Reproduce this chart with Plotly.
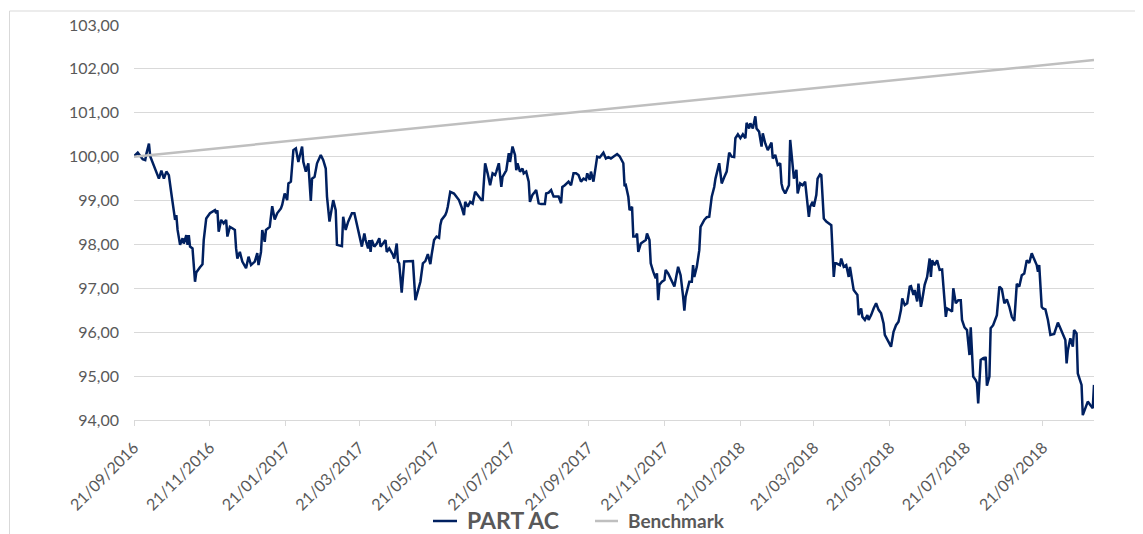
import plotly.graph_objects as go

# ---- data ----
dates = [
    "2016-09-21", "2016-09-24", "2016-09-28", "2016-09-30", "2016-10-01", "2016-10-03", "2016-10-04",
    "2016-10-07", "2016-10-09", "2016-10-11", "2016-10-13", "2016-10-15", "2016-10-17", "2016-10-19",
    "2016-10-21", "2016-10-24", "2016-10-25", "2016-10-26", "2016-10-28", "2016-10-30", "2016-10-31",
    "2016-11-02", "2016-11-03", "2016-11-04", "2016-11-05", "2016-11-07", "2016-11-09", "2016-11-10",
    "2016-11-13", "2016-11-15", "2016-11-16", "2016-11-18", "2016-11-21", "2016-11-23", "2016-11-25",
    "2016-11-26", "2016-11-27", "2016-11-28", "2016-11-30", "2016-12-02", "2016-12-04", "2016-12-05",
    "2016-12-07", "2016-12-09", "2016-12-11", "2016-12-12", "2016-12-13", "2016-12-15", "2016-12-17",
    "2016-12-20", "2016-12-22", "2016-12-24", "2016-12-27", "2016-12-29", "2016-12-30",
    "2017-01-01", "2017-01-02", "2017-01-04", "2017-01-05", "2017-01-08", "2017-01-10", "2017-01-12",
    "2017-01-14", "2017-01-17", "2017-01-18", "2017-01-20", "2017-01-22", "2017-01-23", "2017-01-25",
    "2017-01-27", "2017-01-29", "2017-01-31", "2017-02-03", "2017-02-04", "2017-02-06", "2017-02-08",
    "2017-02-10", "2017-02-11", "2017-02-13", "2017-02-15", "2017-02-18", "2017-02-20", "2017-02-22",
    "2017-02-23", "2017-02-25", "2017-02-28", "2017-03-02", "2017-03-03", "2017-03-07", "2017-03-08",
    "2017-03-10", "2017-03-12", "2017-03-15", "2017-03-17", "2017-03-19", "2017-03-23", "2017-03-25",
    "2017-03-26", "2017-03-28", "2017-03-29", "2017-03-30", "2017-03-31", "2017-04-02", "2017-04-04",
    "2017-04-06", "2017-04-07", "2017-04-09", "2017-04-11", "2017-04-12", "2017-04-14", "2017-04-17",
    "2017-04-18", "2017-04-20", "2017-04-21", "2017-04-22", "2017-04-24", "2017-04-26", "2017-04-29",
    "2017-05-03", "2017-05-05", "2017-05-07", "2017-05-09", "2017-05-11", "2017-05-13", "2017-05-15",
    "2017-05-17", "2017-05-18", "2017-05-20", "2017-05-22", "2017-05-24", "2017-05-25", "2017-05-26",
    "2017-05-29", "2017-05-30", "2017-05-31", "2017-06-02", "2017-06-05", "2017-06-07", "2017-06-09",
    "2017-06-11", "2017-06-13", "2017-06-14", "2017-06-16", "2017-06-18", "2017-06-20", "2017-06-22",
    "2017-06-24", "2017-06-27", "2017-06-28", "2017-06-30", "2017-07-02", "2017-07-04", "2017-07-06",
    "2017-07-08", "2017-07-09", "2017-07-11", "2017-07-13", "2017-07-14", "2017-07-17", "2017-07-18",
    "2017-07-19", "2017-07-20", "2017-07-22", "2017-07-24", "2017-07-25", "2017-07-26", "2017-07-28",
    "2017-07-30", "2017-07-31", "2017-08-02", "2017-08-04", "2017-08-05", "2017-08-07", "2017-08-09",
    "2017-08-10", "2017-08-12", "2017-08-14", "2017-08-17", "2017-08-18", "2017-08-20", "2017-08-22",
    "2017-08-24", "2017-08-28", "2017-08-30", "2017-08-31", "2017-09-02", "2017-09-04", "2017-09-05",
    "2017-09-07", "2017-09-09", "2017-09-11", "2017-09-13", "2017-09-15", "2017-09-17", "2017-09-19",
    "2017-09-20", "2017-09-22", "2017-09-23", "2017-09-25", "2017-09-27", "2017-09-28", "2017-09-30",
    "2017-10-02", "2017-10-03", "2017-10-05", "2017-10-07", "2017-10-09", "2017-10-12", "2017-10-14",
    "2017-10-16", "2017-10-19", "2017-10-20", "2017-10-21", "2017-10-23", "2017-10-24", "2017-10-26",
    "2017-10-27", "2017-10-29", "2017-10-30", "2017-10-31", "2017-11-02", "2017-11-06", "2017-11-07",
    "2017-11-09", "2017-11-10", "2017-11-12", "2017-11-14", "2017-11-15", "2017-11-16", "2017-11-17",
    "2017-11-19", "2017-11-21", "2017-11-22", "2017-11-24", "2017-11-27", "2017-11-29", "2017-12-02",
    "2017-12-04", "2017-12-06", "2017-12-07", "2017-12-08", "2017-12-10", "2017-12-11", "2017-12-13",
    "2017-12-14", "2017-12-15", "2017-12-17", "2017-12-19", "2017-12-20", "2017-12-23", "2017-12-25",
    "2017-12-27", "2017-12-29", "2017-12-31",
    "2018-01-01", "2018-01-04", "2018-01-06", "2018-01-08", "2018-01-10", "2018-01-12", "2018-01-14",
    "2018-01-16", "2018-01-17", "2018-01-19", "2018-01-21", "2018-01-23", "2018-01-25", "2018-01-26",
    "2018-01-28", "2018-01-29", "2018-01-31", "2018-02-02", "2018-02-03", "2018-02-05", "2018-02-07",
    "2018-02-08", "2018-02-10", "2018-02-12", "2018-02-15", "2018-02-16", "2018-02-18", "2018-02-20",
    "2018-02-22", "2018-02-23", "2018-02-24", "2018-02-26", "2018-02-28", "2018-03-01", "2018-03-02",
    "2018-03-04", "2018-03-05", "2018-03-07", "2018-03-08", "2018-03-10", "2018-03-12", "2018-03-14",
    "2018-03-16", "2018-03-17", "2018-03-18", "2018-03-20", "2018-03-21", "2018-03-23", "2018-03-24",
    "2018-03-26", "2018-03-27", "2018-03-29", "2018-03-31", "2018-04-04", "2018-04-06", "2018-04-07",
    "2018-04-08", "2018-04-11", "2018-04-12", "2018-04-14", "2018-04-16", "2018-04-18", "2018-04-19",
    "2018-04-21", "2018-04-22", "2018-04-25", "2018-04-26", "2018-04-28", "2018-04-29", "2018-05-01",
    "2018-05-03", "2018-05-04", "2018-05-06", "2018-05-08", "2018-05-10", "2018-05-12", "2018-05-14",
    "2018-05-16", "2018-05-17", "2018-05-20", "2018-05-22", "2018-05-24", "2018-05-26", "2018-05-28",
    "2018-05-30", "2018-05-31", "2018-06-02", "2018-06-04", "2018-06-06", "2018-06-07", "2018-06-09",
    "2018-06-10", "2018-06-12", "2018-06-13", "2018-06-15", "2018-06-16", "2018-06-18", "2018-06-20",
    "2018-06-22", "2018-06-23", "2018-06-24", "2018-06-26", "2018-06-28", "2018-06-30", "2018-07-02",
    "2018-07-05", "2018-07-06", "2018-07-08", "2018-07-10", "2018-07-11", "2018-07-13", "2018-07-15",
    "2018-07-17", "2018-07-18", "2018-07-20", "2018-07-22", "2018-07-24", "2018-07-25", "2018-07-27",
    "2018-07-29", "2018-07-30", "2018-07-31", "2018-08-02", "2018-08-04", "2018-08-05", "2018-08-06",
    "2018-08-07", "2018-08-09", "2018-08-10", "2018-08-12", "2018-08-15", "2018-08-17", "2018-08-19",
    "2018-08-21", "2018-08-23", "2018-08-25", "2018-08-27", "2018-08-29", "2018-08-31", "2018-09-02",
    "2018-09-04", "2018-09-06", "2018-09-08", "2018-09-10", "2018-09-12", "2018-09-14", "2018-09-16",
    "2018-09-17", "2018-09-18", "2018-09-20", "2018-09-21", "2018-09-23", "2018-09-25", "2018-09-27",
    "2018-09-30", "2018-10-01", "2018-10-03", "2018-10-05", "2018-10-07", "2018-10-09", "2018-10-10",
    "2018-10-11", "2018-10-13", "2018-10-15", "2018-10-16", "2018-10-18", "2018-10-19", "2018-10-22",
    "2018-10-23", "2018-10-25", "2018-10-27", "2018-10-29", "2018-10-31", "2018-11-01",
]

part_ac = [
    100.01, 100.09, 99.94, 99.92, 100.07, 100.30, 100.01,
    99.77, 99.62, 99.50, 99.68, 99.50, 99.66, 99.58,
    99.16, 98.56, 98.67, 98.33, 97.99, 98.14, 98.02,
    98.21, 97.99, 98.21, 97.95, 97.91, 97.15, 97.36,
    97.48, 97.55, 98.10, 98.59, 98.71, 98.74, 98.78,
    98.71, 98.78, 98.29, 98.56, 98.48, 98.56, 98.18,
    98.40, 98.37, 98.33, 97.91, 97.68, 97.83, 97.61,
    97.46, 97.72, 97.53, 97.61, 97.80, 97.53,
    97.83, 98.33, 98.06, 98.33, 98.40, 98.87, 98.57,
    98.71, 98.82, 98.90, 99.16, 99.01, 99.39, 99.43,
    100.15, 100.19, 99.88, 100.23, 99.88, 99.66, 99.85,
    98.99, 99.50, 99.54, 99.85, 100.04, 99.92, 99.73,
    99.09, 98.52, 99.01, 98.78, 97.99, 97.96, 98.63,
    98.33, 98.52, 98.71, 98.71, 98.48, 97.95, 98.25,
    98.10, 97.91, 98.10, 97.83, 98.10, 97.95, 98.02,
    98.14, 97.95, 98.02, 98.10, 97.83, 97.91, 97.76,
    97.68, 98.02, 97.61, 97.57, 96.90, 97.61, 97.62,
    97.62, 96.73, 96.92, 97.15, 97.57, 97.62, 97.78,
    97.55, 97.76, 98.10, 98.18, 98.15, 98.44, 98.56,
    98.67, 98.74, 98.86, 99.20, 99.16, 99.09, 99.01,
    98.86, 98.67, 98.97, 98.86, 98.97, 98.93, 99.20,
    99.13, 99.01, 99.01, 99.85, 99.62, 99.35, 99.62,
    99.58, 99.66, 99.85, 99.31, 99.54, 99.69, 99.85,
    100.08, 99.88, 100.23, 100.04, 99.69, 99.85, 99.66,
    99.73, 99.62, 99.66, 99.43, 98.97, 99.13, 99.20,
    99.24, 98.94, 98.92, 98.92, 99.16, 99.18, 99.24,
    99.09, 99.09, 98.94, 99.31, 99.35, 99.39, 99.43,
    99.35, 99.62, 99.62, 99.58, 99.43, 99.50, 99.47,
    99.62, 99.47, 99.66, 99.43, 99.77, 100.00, 99.98,
    100.04, 100.09, 99.96, 99.99, 99.96, 100.01, 100.06,
    100.01, 99.85, 99.33, 99.35, 99.09, 98.78, 98.86,
    98.18, 98.18, 98.25, 97.83, 98.02, 98.10, 98.25,
    98.10, 97.57, 97.38, 97.23, 97.34, 96.73, 97.08,
    97.15, 97.19, 97.42, 97.34, 97.15, 97.04, 97.49,
    97.30, 96.81, 96.49, 96.81, 97.04, 97.15, 97.15,
    97.53, 97.26, 97.49, 97.87, 98.40, 98.56, 98.62,
    98.63, 99.09, 99.31,
    99.50, 99.85, 99.39, 99.53, 99.66, 100.09, 100.00,
    99.99, 100.42, 100.51, 100.42, 100.51, 100.42, 100.77,
    100.64, 100.76, 100.64, 100.92, 100.64, 100.57, 100.23,
    100.53, 100.30, 100.15, 100.32, 99.96, 100.04, 99.81,
    99.85, 99.39, 99.27, 99.16, 99.31, 99.35, 100.38,
    99.88, 99.50, 99.70, 99.16, 99.39, 99.35, 99.43,
    98.78, 98.63, 98.86, 98.97, 98.86, 99.13, 99.50,
    99.60, 99.58, 98.59, 98.52, 98.44, 97.26, 97.57,
    97.57, 97.53, 97.68, 97.49, 97.53, 97.26, 97.49,
    97.08, 96.96, 96.85, 96.39, 96.54, 96.35, 96.28,
    96.39, 96.28, 96.39, 96.54, 96.66, 96.51, 96.43,
    96.20, 95.94, 95.78, 95.67, 96.01, 96.16, 96.24,
    96.51, 96.77, 96.62, 96.66, 97.04, 97.05, 96.85,
    96.96, 96.70, 97.11, 96.58, 96.73, 97.08, 97.26,
    97.68, 97.26, 97.64, 97.53, 97.64, 97.42, 97.43,
    96.35, 96.54, 96.51, 96.47, 97.00, 96.66, 96.73,
    96.73, 96.28, 96.11, 96.05, 95.48, 96.11, 94.99,
    94.91, 94.84, 94.38, 95.37, 95.41, 95.37, 95.44,
    94.78, 94.99, 96.09, 96.16, 96.39, 97.04, 96.98,
    96.66, 96.75, 96.58, 96.35, 96.26, 97.10, 97.04,
    97.30, 97.34, 97.64, 97.58, 97.80, 97.66, 97.53,
    97.38, 97.53, 96.58, 96.54, 96.52, 96.28, 95.94,
    95.96, 96.05, 96.22, 96.09, 95.97, 95.82, 95.29,
    95.59, 95.86, 95.67, 96.05, 95.97, 95.06, 94.80,
    94.11, 94.27, 94.42, 94.34, 94.27, 94.80,
]

bench_dates = ["2016-09-21", "2018-01-21", "2018-11-01"]
benchmark = [100.00, 101.39, 102.20]

tick_dates = [
    "2016-09-21", "2016-11-21", "2017-01-21", "2017-03-21", "2017-05-21", "2017-07-21",
    "2017-09-21", "2017-11-21", "2018-01-21", "2018-03-21", "2018-05-21", "2018-07-21",
    "2018-09-21",
]
tick_labels = [
    "21/09/2016", "21/11/2016", "21/01/2017", "21/03/2017", "21/05/2017", "21/07/2017",
    "21/09/2017", "21/11/2017", "21/01/2018", "21/03/2018", "21/05/2018", "21/07/2018",
    "21/09/2018",
]

series_names = ["PART AC", "Benchmark"]
series_colors = ["#002060", "#BFBFBF"]

GRID = "#D9D9D9"
TXT = "#595959"
FONT = "Lato, 'Open Sans', sans-serif"

# The page body has an 8px margin, so figure coords = screen coords - 8.
OFF = 8
FW, FH = 1143 - OFF, 534 - OFF
# plot area on screen: x 134..1094, y 25..420
L, T = 134 - OFF, 25 - OFF
R = FW - (1094 - OFF)
B = FH - (420 - OFF)
pw = FW - L - R
ph = FH - T - B


def sx(px):  # screen x -> paper x
    return (px - OFF - L) / pw


def sy(py):  # screen y -> paper y
    return (FH - B - (py - OFF)) / ph


fig = go.Figure()
fig.add_trace(go.Scatter(
    x=dates, y=part_ac, mode="lines", name=series_names[0],
    line=dict(color=series_colors[0], width=2.5), showlegend=False,
))
fig.add_trace(go.Scatter(
    x=bench_dates, y=benchmark, mode="lines", name=series_names[1],
    line=dict(color=series_colors[1], width=2.5), showlegend=False,
))

# legend drawn as line keys + text (screen positions from the reference)
legend_keys = [(433, 457, 465, 23), (595, 618, 626, 19)]
shapes = []
annotations = []
for (k0, k1, tx, fs), name, col in zip(legend_keys, series_names, series_colors):
    shapes.append(dict(type="line", xref="paper", yref="paper",
                       x0=sx(k0), x1=sx(k1), y0=sy(521), y1=sy(521),
                       line=dict(color=col, width=2.5)))
    annotations.append(dict(xref="paper", yref="paper", x=sx(tx), y=sy(520),
                            xanchor="left", yanchor="middle", showarrow=False,
                            text="<b>%s</b>" % name,
                            font=dict(family=FONT, size=fs, color=TXT)))

# chart frame (top and left edges)
shapes.append(dict(type="line", xref="paper", yref="paper",
                   x0=sx(9.5), x1=sx(1160), y0=sy(11), y1=sy(11),
                   line=dict(color=GRID, width=1)))
shapes.append(dict(type="line", xref="paper", yref="paper",
                   x0=sx(9.5), x1=sx(9.5), y0=sy(11), y1=sy(560),
                   line=dict(color=GRID, width=1)))

fig.update_layout(
    template="none",
    width=FW, height=FH,
    margin=dict(l=L, r=R, t=T, b=B, pad=0),
    paper_bgcolor="white", plot_bgcolor="white",
    separators=", ",
    font=dict(family=FONT, color=TXT, size=16),
    showlegend=False,
    xaxis=dict(
        type="date",
        range=["2016-09-21", "2018-11-01"],
        tickmode="array", tickvals=tick_dates, ticktext=tick_labels,
        tickangle=-45,
        ticks="outside", ticklen=5, tickwidth=1, tickcolor=GRID,
        showline=True, linecolor=GRID, linewidth=1,
        showgrid=False, zeroline=False,
        tickfont=dict(family=FONT, size=16, color=TXT),
        ticklabelstandoff=6,
        automargin=False,
    ),
    yaxis=dict(
        range=[94, 103], tick0=94, dtick=1, tickformat=".2f",
        showgrid=True, gridcolor=GRID, gridwidth=1,
        zeroline=False, showline=False, ticks="",
        tickfont=dict(family=FONT, size=16, color=TXT),
        ticklabelstandoff=14,
        automargin=False,
    ),
    shapes=shapes,
    annotations=annotations,
)

fig.write_html("out.html")
